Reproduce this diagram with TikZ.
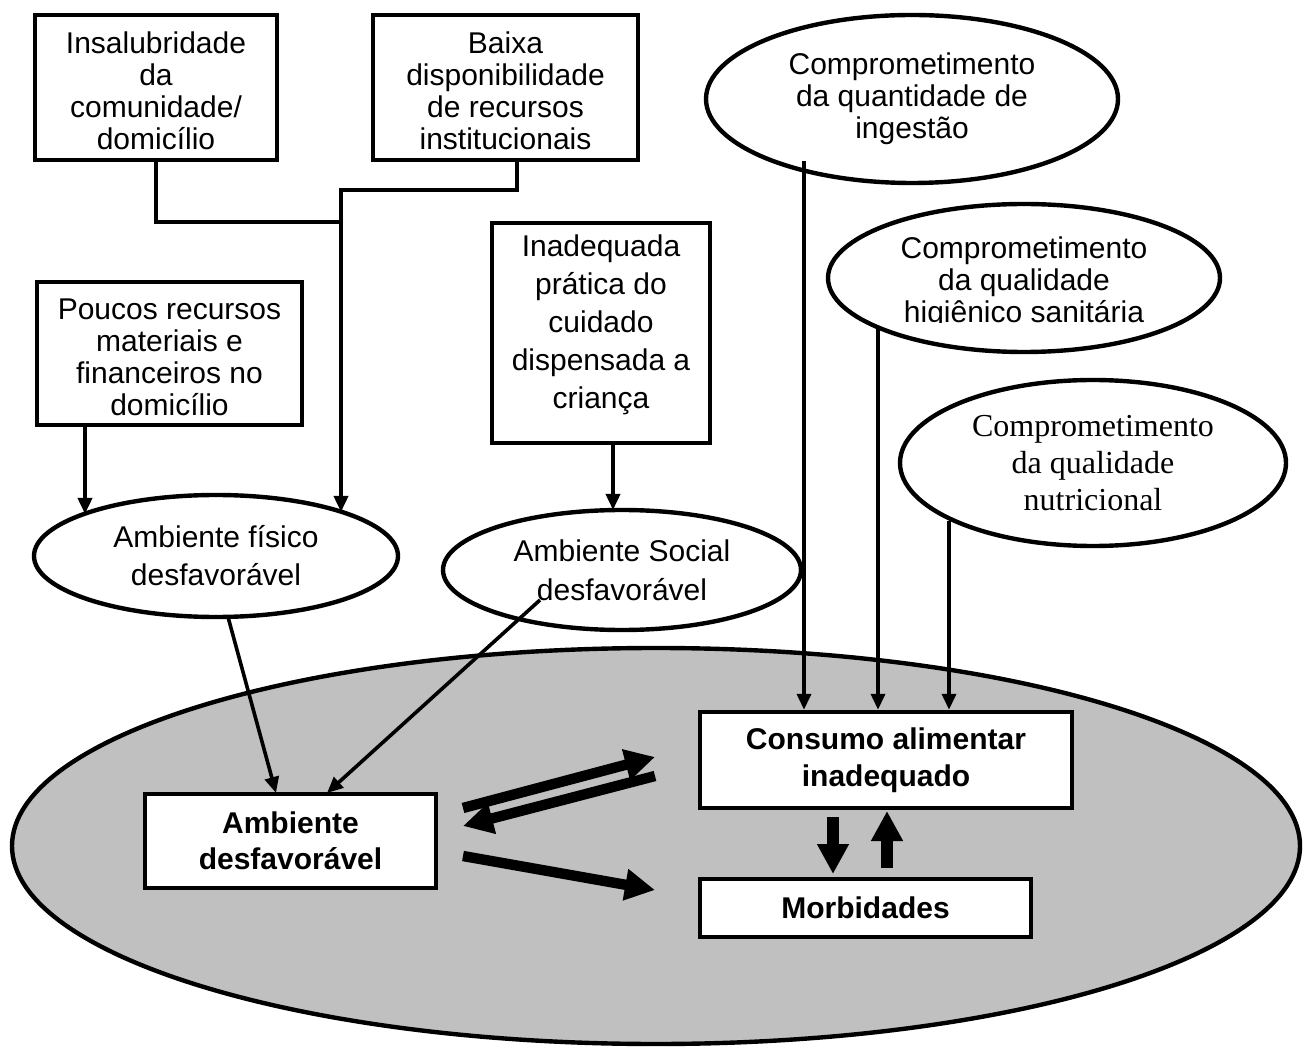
\documentclass[tikz,border=0pt]{standalone}
\usepackage{fontspec}
\setmainfont{Liberation Sans}
\newfontfamily\timesf{Liberation Serif}
\usetikzlibrary{arrows.meta,shapes.geometric}
\definecolor{bggray}{RGB}{192,192,192}
\begin{document}
\begin{tikzpicture}[x=0.5pt,y=-0.5pt,
  boxnode/.style={draw, line width=2.2pt, fill=white, inner sep=0pt},
  boldbox/.style={draw, line width=2.2pt, fill=white, align=center, inner sep=0pt,
    font=\bfseries\fontsize{15}{18}\selectfont},
  ellnode/.style={draw, ellipse, line width=2.2pt, fill=white, align=center, inner sep=0pt,
    font=\fontsize{15}{16}\selectfont},
  txtnode/.style={align=center, inner sep=0pt, font=\fontsize{15}{16}\selectfont},
  plainline/.style={line width=1.8pt},
  conn/.style={line width=1.8pt, -{Triangle[length=8pt,width=7pt]}},
  thk/.style={line width=5.2pt, -{Triangle[length=15pt,width=15pt]}},
  thkv/.style={line width=6pt, -{Triangle[length=15pt,width=15pt]}}
]
\useasboundingbox (0,0) rectangle (1306,1063);

% big grey ellipse
\node[draw, ellipse, line width=2.2pt, fill=bggray, inner sep=0pt,
      minimum width=644pt, minimum height=198pt] (bg) at (656,846) {};

% top boxes
\node[boxnode, minimum width=121pt, minimum height=72.5pt] (ins) at (156,87.5) {};
\node[txtnode] (inst) at (156,91) {Insalubridade\\da\\comunidade/\\domicílio};
\node[boxnode, minimum width=132.5pt, minimum height=72.5pt] (baixa) at (505.5,87.5) {};
\node[txtnode] (baixat) at (505.5,91) {Baixa\\disponibilidade\\de recursos\\institucionais};
\node[boxnode, minimum width=132.5pt, minimum height=71.5pt] (poucos) at (169.5,353.5) {};
\node[txtnode] (poucost) at (169.5,357) {Poucos recursos\\materiais e\\financeiros no\\domicílio};
\node[boxnode, minimum width=109pt, minimum height=110pt] (inad) at (601,333) {};
\node[txtnode, font=\fontsize{15}{19}\selectfont] (inadt) at (601,325)
  {Inadequada\\prática do\\cuidado\\dispensada a\\criança};

% ellipses
\node[ellnode, minimum width=206pt, minimum height=84pt] (ell1) at (912,99)
  {Comprometimento\\da quantidade de\\ingestão};
\node[ellnode, minimum width=196pt, minimum height=74pt] (ell2) at (1024,278) {};
\begin{scope}
  \clip (800,190) rectangle (1250,323);
  \node[txtnode] (ell2t) at (1024,283)
    {Comprometimento\\da qualidade\\higiênico sanitária};
\end{scope}
\node[ellnode, minimum width=193pt, minimum height=83pt,
      font=\timesf\fontsize{16}{18.5}\selectfont] (ell3) at (1093,463)
  {Comprometimento\\da qualidade\\nutricional};
\node[ellnode, minimum width=182pt, minimum height=61pt,
      font=\fontsize{15}{19}\selectfont] (fis) at (216,556)
  {Ambiente físico\\desfavorável};
\node[ellnode, minimum width=179pt, minimum height=60pt,
      font=\fontsize{15}{19.5}\selectfont] (soc) at (622,570)
  {Ambiente Social\\desfavorável};

% inner boxes
\node[boldbox, minimum width=145.5pt, minimum height=47pt] (amb) at (290.5,841)
  {Ambiente\\desfavorável};
\node[boldbox, minimum width=186pt, minimum height=48pt,
      font=\bfseries\fontsize{15}{18.5}\selectfont] (cons) at (886,760)
  {Consumo alimentar\\inadequado};
\node[boldbox, minimum width=165.5pt, minimum height=29pt] (morb) at (865.5,908)
  {Morbidades};

% helper coordinates
\coordinate (j) at (341,222);
\coordinate (bx) at (517,190);
\coordinate (fisR) at (341,512);
\coordinate (fisL) at (85,514);
\coordinate (socT) at (613,510);
\coordinate (fisB) at (228,617);
\coordinate (ambA) at (276,793);
\coordinate (socB) at (540,600);
\coordinate (ambB) at (327,793);
\coordinate (c1) at (804,161);
\coordinate (c2) at (878,329);
\coordinate (c3) at (949,521);
\coordinate (t1s) at (463,808);
\coordinate (t1e) at (655,757);
\coordinate (t2s) at (655,776);
\coordinate (t2e) at (463,826);
\coordinate (t3s) at (463,856);
\coordinate (t3e) at (655,890);
\coordinate (dS) at (833,817);
\coordinate (dE) at (833,874);
\coordinate (uS) at (887,868);
\coordinate (uE) at (887,811);

% connectors
\draw[plainline] (ins.south) -- (ins.south |- j) -- (j);
\draw[conn] (baixa.south -| bx) -- (bx) -- (bx -| j) -- (fisR);
\draw[conn] (poucos.south -| fisL) -- (fisL);
\draw[conn] (inad.south -| socT) -- (socT);
\draw[conn] (fisB) -- (ambA);
\draw[conn] (socB) -- (ambB);
\draw[conn] (c1) -- (c1 |- cons.north);
\draw[conn] (c2) -- (c2 |- cons.north);
\draw[conn] (c3) -- (c3 |- cons.north);

% thick arrows
\draw[thk] (t1s) -- (t1e);
\draw[thk] (t2s) -- (t2e);
\draw[thk] (t3s) -- (t3e);
\draw[thkv] (dS) -- (dE);
\draw[thkv] (uS) -- (uE);
\end{tikzpicture}
\end{document}
